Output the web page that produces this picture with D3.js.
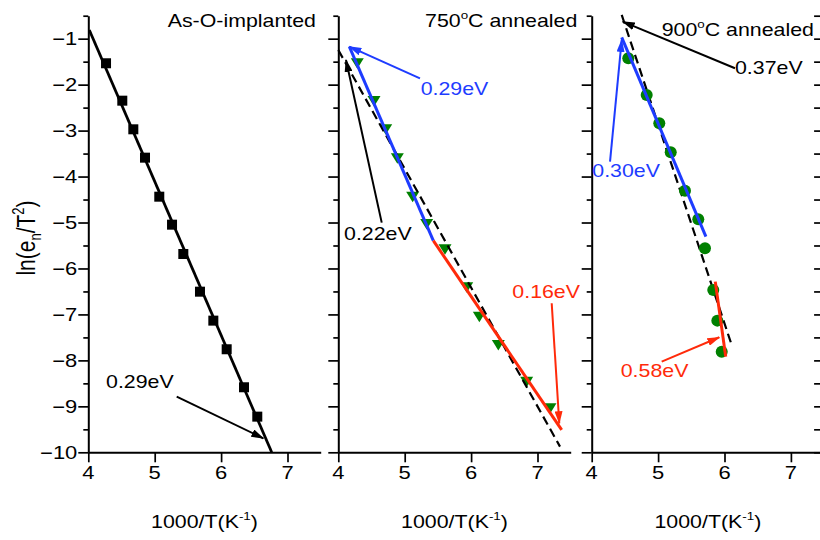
<!DOCTYPE html>
<html><head><meta charset="utf-8">
<script src="https://cdn.jsdelivr.net/npm/d3@7"></script>
<style>body{margin:0;background:#fff} svg{display:block} text{font-family:"Liberation Sans",Arial,sans-serif}</style>
</head><body><svg id="c" width="820" height="540"></svg>
<script>
// ---------- data ----------
const xTicks = [4, 5, 6, 7];
const yTicks = [-1, -2, -3, -4, -5, -6, -7, -8, -9, -10];
const yMinor = [-0.5, -1.5, -2.5, -3.5, -4.5, -5.5, -6.5, -7.5, -8.5, -9.5];

// As-O-implanted (squares)
const asoX = [4.267, 4.512, 4.678, 4.854, 5.069, 5.261, 5.431, 5.682, 5.883, 6.084, 6.345, 6.545];
const asoY = [-1.535, -2.349, -2.972, -3.589, -4.438, -5.047, -5.685, -6.505, -7.135, -7.758, -8.585, -9.224];
// 750C annealed (down triangles)
const a750X = [4.286, 4.538, 4.714, 4.889, 5.120, 5.331, 5.607, 5.934, 6.124, 6.410, 6.837, 7.188];
const a750Y = [-1.535, -2.356, -2.972, -3.603, -4.438, -5.032, -5.58, -6.409, -7.049, -7.664, -8.463, -9.042];
// 900C annealed (circles)
const a900X = [4.551, 4.828, 5.018, 5.190, 5.405, 5.605, 5.706, 5.831, 5.892, 5.958];
const a900Y = [-1.426, -2.225, -2.841, -3.472, -4.307, -4.930, -5.561, -6.468, -7.135, -7.810];

// fit lines (end points)
const fitAsoX = [4.015, 6.762], fitAsoY = [-0.81, -10];
const fit750DashX = [4.0, 7.339], fit750DashY = [-1.246, -9.877];
const fit750BlueX = [4.166, 5.431], fit750BlueY = [-1.174, -5.395];
const fit750RedX = [5.431, 7.364], fit750RedY = [-5.395, -9.514];
const fit900DashX = [4.452, 6.108], fit900DashY = [-0.484, -7.665];
const fit900BlueX = [4.452, 5.720], fit900BlueY = [-0.970, -5.308];
const fit900RedX = [5.861, 6.018], fit900RedY = [-6.287, -7.919];

// annotations: label, text anchor (data units), arrow from -> to (data units)
const annLabels = ["0.29eV", "0.29eV", "0.22eV", "0.16eV", "0.37eV", "0.30eV", "0.58eV"];
const annPanel  = [0, 1, 1, 1, 2, 2, 2];
const annColor  = ["k", "b", "k", "r", "k", "b", "r"];
const annTextX  = [4.282, 5.256, 4.101, 6.636, 6.173, 4.024, 4.452];
const annTextY  = [-8.607, -2.225, -5.380, -6.635, -1.768, -4.003, -8.354];
const annFromX  = [5.331, 5.230, 4.654, 7.214, 6.158, 4.276, 5.054];
const annFromY  = [-8.79, -1.862, -5.003, -6.757, -1.644, -3.676, -8.028];
const annToX    = [6.636, 4.166, 4.116, 7.328, 4.467, 4.452, 5.922];
const annToY    = [-9.695, -1.174, -1.463, -9.368, -0.630, -1.028, -7.497];

const titles = ["As-O-implanted", "750|o|C annealed", "900|o|C annealed"];
const titleX = [7.429, 5.306, 5.054];
const titleY = [-0.752, -0.739, -0.941];
const titleAnchor = ["end", "start", "start"];

// ---------- layout ----------
const colors = {k: "#000000", b: "#1e3cff", r: "#ff2a0a", g: "#008000"};
const SX = 1.22; // horizontal text stretch
const panelLeft = [88.3, 338.3, 591.7];
const panelW = 232.4;
const y = d3.scaleLinear().domain([-10, -0.5]).range([452.3, 15.7]);
const xs = panelLeft.map(l => d3.scaleLinear().domain([4, 7.5]).range([l, l + panelW]));

const svg = d3.select("#c");
const defs = svg.append("defs");
Object.entries(colors).forEach(([k, c]) => {
  defs.append("marker").attr("id", "ah-" + k)
    .attr("viewBox", "0 0 13 8").attr("refX", 12).attr("refY", 4)
    .attr("markerWidth", 13).attr("markerHeight", 8)
    .attr("markerUnits", "userSpaceOnUse").attr("orient", "auto")
    .append("path").attr("d", "M0,0 L13,4 L0,8 Z").attr("fill", c);
});

function stext(g, x, yy, parts, opt) {
  opt = opt || {};
  const t = g.append("text")
    .attr("transform", `translate(${x},${yy}) scale(${SX},1)`)
    .attr("text-anchor", opt.anchor || "start")
    .attr("font-size", opt.size || 17.5)
    .attr("fill", opt.fill || "#000");
  parts.forEach(p => {
    const s = t.append("tspan").text(p.t);
    if (p.size) s.attr("font-size", p.size);
    if (p.dy) s.attr("dy", p.dy);
  });
  return t;
}
function supParts(str) {
  const a = str.split("|");
  if (a.length === 1) return [{t: str}];
  return [{t: a[0]}, {t: a[1], size: 11, dy: -8}, {t: a[2], dy: 8}];
}

const lineGen = (xsc) => d3.line().x(d => xsc(d[0])).y(d => y(d[1]));
const zip = (a, b) => a.map((v, i) => [v, b[i]]);
const fmtY = v => String(v).replace("-", "\u2212");

xs.forEach((x, pi) => {
  const g = svg.append("g");
  // y axis major
  const ya = g.append("g").attr("transform", `translate(${x(4)},0)`)
    .call(d3.axisLeft(y).tickValues(yTicks).tickSize(10).tickSizeOuter(0).tickFormat(""));
  const ym = g.append("g").attr("transform", `translate(${x(4)},0)`)
    .call(d3.axisLeft(y).tickValues(yMinor).tickSize(5).tickSizeOuter(0).tickFormat(""));
  ym.select(".domain").remove();
  // x axis
  const xa = g.append("g").attr("transform", `translate(0,${y(-10)})`)
    .call(d3.axisBottom(x).tickValues(xTicks).tickSize(10).tickSizeOuter(0).tickFormat(""));
  [ya, ym, xa].forEach(a => {
    a.selectAll(".domain").attr("stroke-width", 2);
    a.selectAll(".tick line").attr("stroke-width", 1.7);
  });
  xTicks.forEach(v => stext(g, x(v), 479, [{t: String(v)}], {anchor: "middle", size: 18}));
  if (pi === 0) {
    yTicks.forEach(v => stext(g, x(4) - 11, y(v) + 6.5, [{t: fmtY(v)}], {anchor: "end", size: 18}));
  }
  if (pi === 2) {
    const ra = g.append("g").attr("transform", `translate(${x(7.5)},0)`)
      .call(d3.axisLeft(y).tickValues(yTicks.concat(yMinor)).tickSize(10).tickSizeOuter(0).tickFormat(""));
    ra.select(".domain").attr("stroke-width", 2);
    ra.selectAll(".tick line").attr("stroke-width", 1.7);
  }
  // x axis title
  stext(g, (x(4) + x(7.5)) / 2, 528, [{t: "1000/T(K"}, {t: "-1", size: 11, dy: -8}, {t: ")", dy: 8}], {anchor: "middle"});
  // panel title
  stext(g, x(titleX[pi]), y(titleY[pi]), supParts(titles[pi]), {anchor: titleAnchor[pi]});
});

// y axis title
svg.append("text")
  .attr("transform", `translate(35,238) rotate(-90) scale(1,${SX})`)
  .attr("text-anchor", "middle").attr("font-size", 21)
  .call(t => {
    t.append("tspan").text("ln(e");
    t.append("tspan").text("n").attr("font-size", 13).attr("dy", 5);
    t.append("tspan").text("/T").attr("dy", -5);
    t.append("tspan").text("2").attr("font-size", 13).attr("dy", -9);
    t.append("tspan").text(")").attr("dy", 9);
  });

// ---------- panel 1 ----------
const x0 = xs[0], x1 = xs[1], x2 = xs[2];
svg.append("path").datum(zip(fitAsoX, fitAsoY)).attr("d", lineGen(x0))
  .attr("stroke", "#000").attr("stroke-width", 2.8).attr("fill", "none");
svg.append("g").selectAll("rect").data(zip(asoX, asoY)).join("rect")
  .attr("x", d => x0(d[0]) - 5).attr("y", d => y(d[1]) - 5)
  .attr("width", 10).attr("height", 10).attr("fill", "#000");

// ---------- panel 2 ----------
svg.append("g").selectAll("path").data(zip(a750X, a750Y)).join("path")
  .attr("transform", d => `translate(${x1(d[0])},${y(d[1])})`)
  .attr("d", "M-6.5,-5 L6.5,-5 L0,5.5 Z").attr("fill", colors.g);
svg.append("path").datum(zip(fit750DashX, fit750DashY)).attr("d", lineGen(x1))
  .attr("stroke", "#000").attr("stroke-width", 2.2).attr("stroke-dasharray", "9,5").attr("fill", "none");
svg.append("path").datum(zip(fit750BlueX, fit750BlueY)).attr("d", lineGen(x1))
  .attr("stroke", colors.b).attr("stroke-width", 3).attr("fill", "none");
svg.append("path").datum(zip(fit750RedX, fit750RedY)).attr("d", lineGen(x1))
  .attr("stroke", colors.r).attr("stroke-width", 3).attr("fill", "none");

// ---------- panel 3 ----------
svg.append("path").datum(zip(fit900DashX, fit900DashY)).attr("d", lineGen(x2))
  .attr("stroke", "#000").attr("stroke-width", 2.2).attr("stroke-dasharray", "9,5").attr("fill", "none");
svg.append("g").selectAll("circle").data(zip(a900X, a900Y)).join("circle")
  .attr("cx", d => x2(d[0])).attr("cy", d => y(d[1])).attr("r", 6).attr("fill", colors.g);
svg.append("path").datum(zip(fit900BlueX, fit900BlueY)).attr("d", lineGen(x2))
  .attr("stroke", colors.b).attr("stroke-width", 3).attr("fill", "none");
svg.append("path").datum(zip(fit900RedX, fit900RedY)).attr("d", lineGen(x2))
  .attr("stroke", colors.r).attr("stroke-width", 3).attr("fill", "none");

// ---------- annotations ----------
annLabels.forEach((lab, i) => {
  const x = xs[annPanel[i]], c = colors[annColor[i]];
  svg.append("line")
    .attr("x1", x(annFromX[i])).attr("y1", y(annFromY[i]))
    .attr("x2", x(annToX[i])).attr("y2", y(annToY[i]))
    .attr("stroke", c).attr("stroke-width", 2).attr("marker-end", `url(#ah-${annColor[i]})`);
  stext(svg, x(annTextX[i]) - 1, y(annTextY[i]), [{t: lab}], {fill: c});
});
</script></body></html>
